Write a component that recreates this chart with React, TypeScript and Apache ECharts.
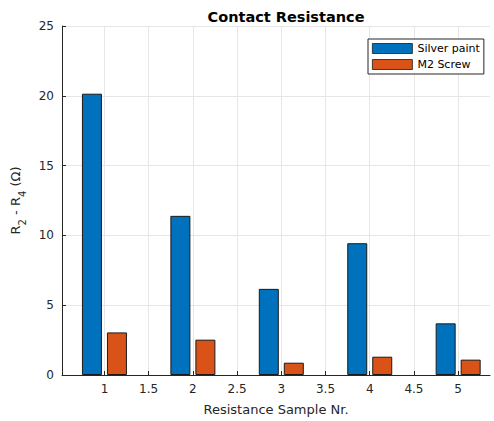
import React, { useEffect, useRef } from "react";
import * as echarts from "echarts";

const samples = [1, 2, 3, 4, 5];
const silverPaint = [20.15, 11.4, 6.17, 9.44, 3.7];
const m2Screw = [3.05, 2.53, 0.88, 1.31, 1.1];
const xTicks = [1, 1.5, 2, 2.5, 3, 3.5, 4, 4.5, 5];
const seriesNames = ["Silver paint", "M2 Screw"];

const FONT = "DejaVu Sans";
const TXT = "#262626";

export default function App() {
  const ref = useRef<HTMLDivElement>(null);
  useEffect(() => {
    if (!ref.current) return;
    const chart = echarts.init(ref.current, null, { renderer: "svg" });
    chart.setOption({
      animation: false,
      backgroundColor: "#ffffff",
      textStyle: { fontFamily: FONT },
      title: {
        text: "Contact Resistance",
        left: 281,
        textAlign: "center",
        top: 4,
        textStyle: { fontFamily: FONT, fontSize: 14.5, fontWeight: "bold", color: "#000" },
      },
      legend: {
        left: 368,
        top: 39,
        orient: "vertical",
        itemWidth: 40,
        itemHeight: 10,
        itemGap: 5,
        padding: [4, 4, 4, 4],
        borderColor: "#262626",
        borderWidth: 1,
        backgroundColor: "#fff",
        icon: "rect",
        itemStyle: { borderWidth: 0.8, borderColor: "#1a1a1a" },
        textStyle: { fontFamily: FONT, fontSize: 11, color: "#000" },
        data: seriesNames,
      },
      grid: { left: 62, top: 26, right: 4, bottom: 45, containLabel: false },
      xAxis: {
        type: "value",
        min: 0.52,
        max: 5.36,
        name: "Resistance Sample Nr.",
        nameLocation: "middle",
        nameGap: 28,
        nameTextStyle: { fontFamily: FONT, fontSize: 13, color: TXT },
        axisLine: { show: true, onZero: false, lineStyle: { color: TXT, width: 1 } },
        axisTick: { show: true, inside: true, length: 4, customValues: xTicks, lineStyle: { color: TXT } },
        axisLabel: {
          customValues: xTicks,
          fontFamily: FONT,
          fontSize: 12,
          color: TXT,
          margin: 8,
          formatter: (v: number) => String(v),
        },
        splitLine: { show: true, lineStyle: { color: "#e6e6e6", width: 1 } },
      },
      yAxis: {
        type: "value",
        min: 0,
        max: 25,
        interval: 5,
        name: "R{sub|2} - R{sub|4} (Ω)",
        nameLocation: "middle",
        nameGap: 26,
        nameRotate: 90,
        nameTextStyle: {
          fontFamily: FONT,
          fontSize: 13,
          color: TXT,
          rich: {
            sub: { fontFamily: FONT, fontSize: 10, color: TXT, verticalAlign: "bottom", padding: [0, 0, -6, 0] },
          },
        },
        axisLine: { show: true, lineStyle: { color: TXT, width: 1 } },
        axisTick: { show: true, inside: true, length: 4, lineStyle: { color: TXT } },
        axisLabel: { fontFamily: FONT, fontSize: 12, color: TXT, margin: 8 },
        splitLine: { show: true, lineStyle: { color: "#e6e6e6", width: 1 } },
      },
      series: [
        {
          name: seriesNames[0],
          type: "bar",
          barWidth: 20,
          barGap: "25%",
          data: samples.map((x, i) => [x, silverPaint[i]]),
          itemStyle: { color: "#0072BD", borderColor: "#1a1a1a", borderWidth: 1 },
        },
        {
          name: seriesNames[1],
          type: "bar",
          barWidth: 20,
          barGap: "25%",
          data: samples.map((x, i) => [x, m2Screw[i]]),
          itemStyle: { color: "#D95319", borderColor: "#1a1a1a", borderWidth: 1 },
        },
      ],
    });
    return () => chart.dispose();
  }, []);
  return (
    <div
      ref={ref}
      style={{ position: "absolute", left: 0, top: 0, width: 494, height: 421 }}
    />
  );
}
